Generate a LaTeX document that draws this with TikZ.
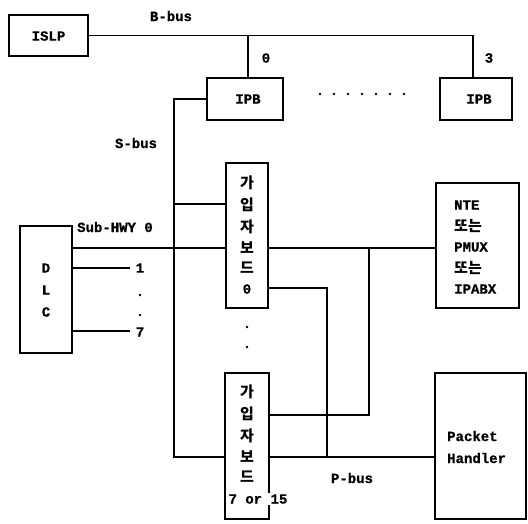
\documentclass[tikz,border=0pt]{standalone}
\usepackage{fontspec}
\newfontfamily\lblfont{Liberation Mono}[BoldFeatures={FakeBold=0.8}]
\newfontfamily\kr{Noto Sans CJK KR}
\begin{document}
\begin{tikzpicture}[x=1pt,y=-1pt,
  box/.style={draw,line width=1.3pt,minimum width=#1,inner sep=0pt},
  lbl/.style={font=\lblfont\bfseries\fontsize{14}{15}\selectfont,inner sep=0pt},
  krl/.style={font=\kr\bfseries\fontsize{15}{16}\selectfont,inner sep=0pt},
  wire/.style={line width=1.1pt}]
\useasboundingbox (0,0) rectangle (528,523);
% boxes
\node[box=79pt,minimum height=41pt] (islp) at (48.5,35.5) {};
\node[lbl] (tislp) at (48.5,36) {ISLP};
\node[box=76pt,minimum height=42pt] (ipb0) at (245,99) {};
\node[lbl] (tipb0) at (248,99) {IPB};
\node[box=72pt,minimum height=42pt] (ipb3) at (476,99) {};
\node[lbl] (tipb3) at (479,99) {IPB};
\node[box=42pt,minimum height=145pt] (board0) at (247,235.5) {};
\node[box=44pt,minimum height=146pt] (board7) at (247,446) {};
\node[box=52pt,minimum height=127pt] (dlc) at (46,289.5) {};
\node[box=83pt,minimum height=125pt] (nte) at (477.5,245.5) {};
\node[box=91pt,minimum height=146pt] (ph) at (480.5,446) {};
% board texts
\foreach \c/\y [count=\i] in {가/183,입/205,자/227,보/248,드/268}{
  \node[krl] (b0t\i) at (247,\y) {\c};
  \node[krl] (b7t\i) at (247,\y+209) {\c};
}
\node[lbl] (b0n) at (247,289) {0};
\node[lbl,fill=white,inner sep=1pt] (b7n) at (258,499) {7 or 15};
% DLC text
\node[lbl] (dD) at (46,268) {D};
\node[lbl] (dL) at (46,290) {L};
\node[lbl] (dC) at (46,312) {C};
% NTE text
\node[lbl,anchor=west] (n1) at (454,205) {NTE};
\node[krl,anchor=west] (n2) at (454,226) {또는};
\node[lbl,anchor=west] (n3) at (454,247) {PMUX};
\node[krl,anchor=west] (n4) at (454,268) {또는};
\node[lbl,anchor=west] (n5) at (454,289) {IPABX};
% packet handler text
\node[lbl,anchor=west] (p1) at (447,436) {Packet};
\node[lbl,anchor=west] (p2) at (447,458) {Handler};
% labels
\node[lbl] (lbbus) at (171,16) {B-bus};
\node[lbl] (l0) at (266,58) {0};
\node[lbl] (l3) at (489,58) {3};
\node[lbl] (lsbus) at (136,143) {S-bus};
\node[lbl,anchor=west] (lhwy) at (77,227) {Sub-HWY 0};
\node[lbl] (l1) at (140,268) {1};
\node[lbl] (l7) at (140,332) {7};
\node[lbl] (lpbus) at (352,478) {P-bus};
\foreach \k in {0,...,6}{\fill (320+14*\k,94) circle (1.4pt);}
\fill (140,295) circle (1.4pt);
\fill (140,315) circle (1.4pt);
\fill (247,327) circle (1.4pt);
\fill (247,347) circle (1.4pt);
% coordinates
\coordinate (sL) at (174,457);
\coordinate (s0) at (174,204);
\coordinate (h0) at (0,248);
\coordinate (e1) at (130,268);
\coordinate (e7) at (130,331);
\coordinate (v1) at (369,415);
\coordinate (v2) at (327,457);
\coordinate (q0) at (0,288);
% wires
\draw[wire] (islp.east) -| ([xshift=-3pt]ipb3.north);
\draw[wire] ([xshift=3pt]ipb0.north) -- ([xshift=3pt]ipb0.north |- islp.east);
\draw[wire] (ipb0.west) -| (sL) -- (sL -| board7.west);
\draw[wire] (s0) -- (s0 -| board0.west);
\draw[wire] (dlc.east |- h0) -- (board0.west |- h0);
\draw[wire] (board0.east |- h0) -- (nte.west |- h0);
\draw[wire] (dlc.east |- e1) -- (e1);
\draw[wire] (dlc.east |- e7) -- (e7);
\draw[wire] (v1 |- h0) -- (v1) -- (v1 -| board7.east);
\draw[wire] (board0.east |- q0) -| (v2);
\draw[wire] (board7.east |- v2) -- (ph.west |- v2);
\end{tikzpicture}
\end{document}
